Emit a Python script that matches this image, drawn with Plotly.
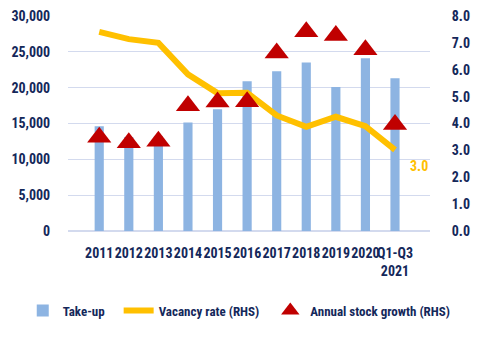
import plotly.graph_objects as go

categories = ["2011", "2012", "2013", "2014", "2015", "2016", "2017", "2018", "2019", "2020", "Q1-Q3<br>2021"]
take_up = [14600, 13100, 13200, 15150, 17000, 20900, 22300, 23500, 20100, 24100, 21300]
vacancy = [7.41, 7.14, 7.0, 5.83, 5.13, 5.14, 4.30, 3.88, 4.25, 3.90, 3.02]
stock_growth = [3.49, 3.28, 3.34, 4.66, 4.80, 4.81, 6.62, 7.41, 7.27, 6.74, 3.96]

navy = "#14285A"
font_family = "Roboto Condensed, DejaVu Sans Condensed, sans-serif"

fig = go.Figure()
fig.add_trace(go.Bar(x=categories, y=take_up, name="<b>Take-up</b>&nbsp;&nbsp;&nbsp;",
                     marker=dict(color="#8DB4E2", line=dict(width=0)), yaxis="y"))
fig.add_trace(go.Scatter(x=categories, y=vacancy, name="<b>Vacancy rate (RHS)</b>&nbsp;&nbsp;", mode="lines",
                         line=dict(color="#FFC000", width=6), yaxis="y2"))
fig.add_trace(go.Scatter(x=categories, y=stock_growth, name="<b>Annual stock growth (RHS)</b>", mode="markers",
                         marker=dict(symbol="triangle-up", size=21, color="#C00000"), yaxis="y2"))

fig.add_annotation(x=categories[-1], y=vacancy[-1], yref="y2", text="<b>3.0</b>", showarrow=False,
                   xshift=24, yshift=-16, font=dict(color="#FFC000", size=14, family=font_family))

fig.update_layout(
    width=490, height=338,
    margin=dict(l=68, r=60, t=16, b=104),
    paper_bgcolor="white", plot_bgcolor="white",
    font=dict(family=font_family, color=navy, size=14),
    bargap=0.69,
    showlegend=True,
    legend=dict(orientation="h", x=-0.125, xanchor="left", y=-0.30, yanchor="top",
                font=dict(size=13, color=navy, family=font_family), itemwidth=30,
                traceorder="normal"),
    xaxis=dict(showgrid=False, showline=False, ticks="outside", ticklen=9, tickcolor="rgba(0,0,0,0)",
               tickangle=0, automargin=False,
               tickfont=dict(size=14, color=navy),
               tickprefix="<b>", ticksuffix="</b>"),
    yaxis=dict(range=[0, 30000], dtick=5000, tickformat=",", showgrid=True, gridcolor="#D3DAEE",
               gridwidth=1, zeroline=True, zerolinecolor="#D3DAEE", ticks="outside", ticklen=14,
               tickcolor="rgba(0,0,0,0)", tickprefix="<b>", ticksuffix="</b>", automargin=False,
               tickfont=dict(size=14, color=navy)),
    yaxis2=dict(range=[0, 8], dtick=1, tickformat=".1f", overlaying="y", side="right", showgrid=False,
                zeroline=False, ticks="outside", ticklen=18, tickcolor="rgba(0,0,0,0)", automargin=False,
                tickprefix="<b>", ticksuffix="</b>", tickfont=dict(size=14, color=navy)),
)

fig.write_html("out.html")
